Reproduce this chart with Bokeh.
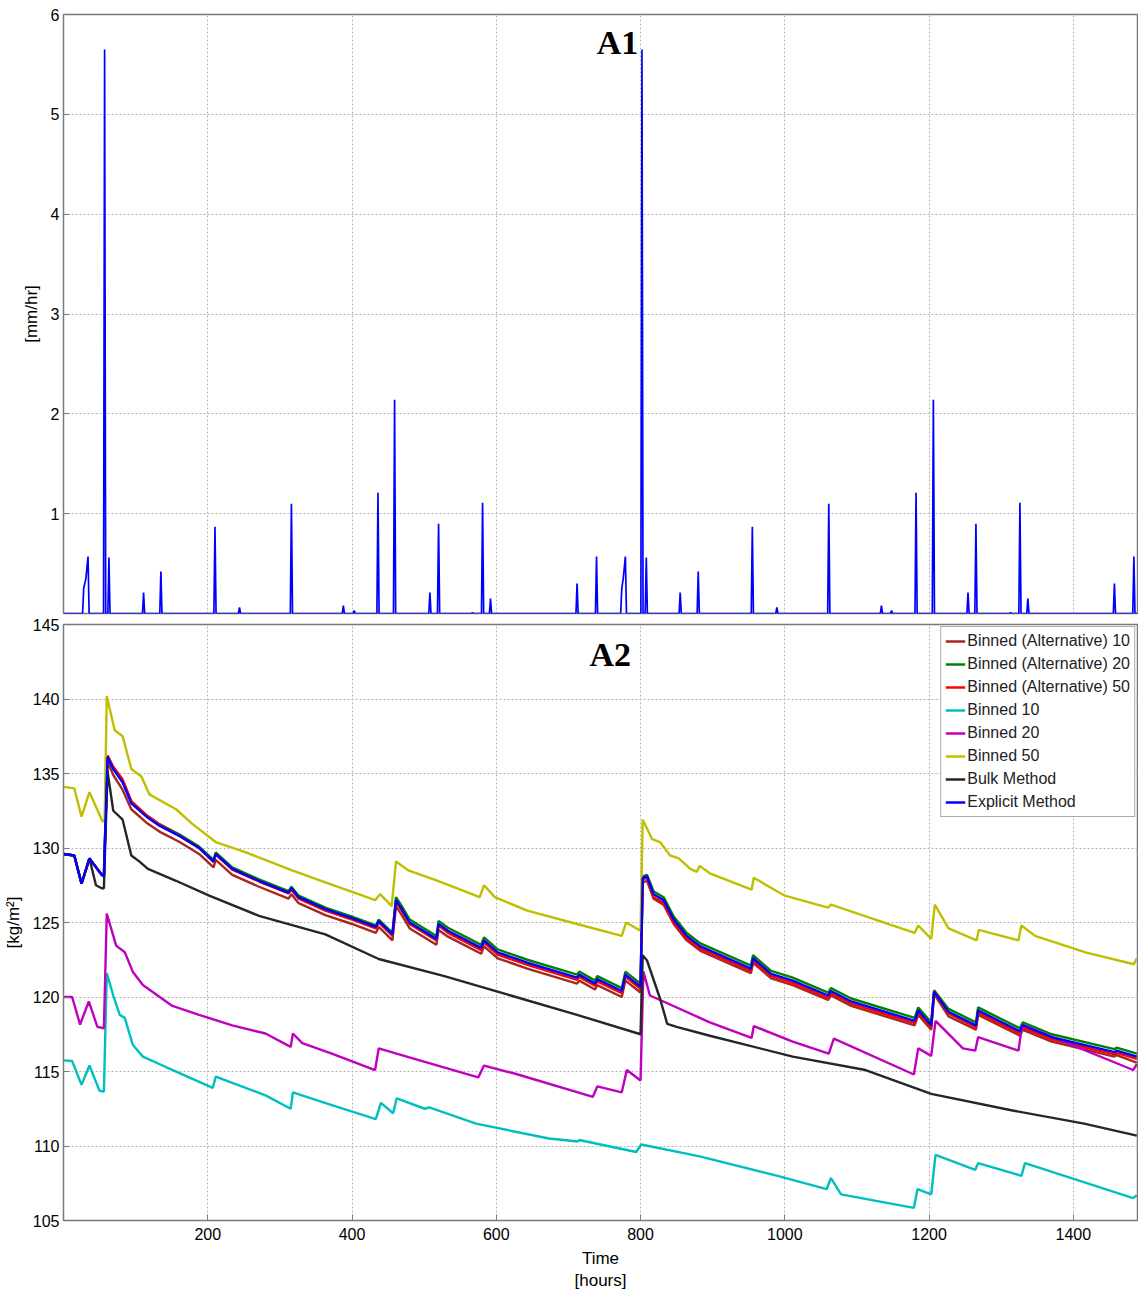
from bokeh.plotting import figure
from bokeh.layouts import column
from bokeh.models import Range1d, FixedTicker, Label
from bokeh.embed import file_html
from bokeh.resources import INLINE

# ---------------- data ----------------
# A1: rainfall events (hour, peak rate mm/hr)
rain_hour = [28, 31, 34, 57, 63, 111, 135, 210, 244, 316, 388, 403, 436, 459, 508, 520, 567,
             581, 592, 712, 739, 774, 776, 779, 802, 808, 855, 880, 955, 989, 1061, 1134,
             1148, 1182, 1206, 1254, 1265, 1313, 1326, 1337, 1457, 1484]
rain_peak = [0.25, 0.35, 0.57, 5.65, 0.56, 0.21, 0.42, 0.87, 0.06, 1.10, 0.08, 0.03, 1.21,
             2.14, 0.21, 0.90, 0.01, 1.11, 0.15, 0.30, 0.57, 0.25, 0.35, 0.57, 5.65, 0.56,
             0.21, 0.42, 0.87, 0.06, 1.10, 0.08, 0.03, 1.21, 2.14, 0.21, 0.90, 0.01, 1.11,
             0.15, 0.30, 0.57]

# A2: four closely following series share these hours
t_grp = [0, 15, 25, 36, 53, 56, 61, 69, 82, 94, 115, 133, 161, 188, 208, 211, 234, 271, 312,
         316, 326, 363, 400, 433, 437, 456, 461, 469, 480, 517, 520, 533, 579, 583, 602, 643,
         712, 715, 737, 740, 774, 779, 800, 803, 809, 818, 832, 846, 864, 883, 953, 956, 981,
         1011, 1060, 1064, 1092, 1180, 1185, 1203, 1207, 1227, 1265, 1268, 1326, 1330, 1370,
         1457, 1460, 1488]
explicit = [129.6, 129.5, 127.6, 129.3, 128.2, 128.1,
            136.1, 135.3, 134.4, 133.0, 132.1, 131.5, 130.8, 130.0, 129.1, 129.6,
            128.6, 127.8, 127.0, 127.3, 126.7, 125.9, 125.3, 124.7, 125.1, 124.2,
            126.5, 125.9, 125.0, 123.9, 124.9, 124.45, 123.3, 123.8, 123.0, 122.3,
            121.3, 121.5, 120.9, 121.2, 120.4, 121.5, 120.7, 128.0, 128.1, 126.9,
            126.5, 125.2, 124.1, 123.4, 121.9, 122.6, 121.55, 121.1, 120.1, 120.4,
            119.7, 118.4, 119.1, 118.1, 120.35, 119.0, 118.1, 119.1, 117.7, 118.1,
            117.3, 116.3, 116.4, 116.0]
alt20 = [129.6, 129.5, 127.6, 129.3, 128.2, 128.1,
         136.2, 135.4, 134.5, 133.1, 132.2, 131.6, 130.9, 130.1, 129.2, 129.7,
         128.7, 127.9, 127.1, 127.4, 126.8, 126.0, 125.4, 124.8, 125.2, 124.3,
         126.7, 126.1, 125.2, 124.1, 125.1, 124.65, 123.5, 124.0, 123.2, 122.5,
         121.5, 121.7, 121.1, 121.4, 120.6, 121.7, 120.9, 128.1, 128.2, 127.1,
         126.7, 125.4, 124.3, 123.6, 122.1, 122.8, 121.75, 121.3, 120.3, 120.6,
         119.9, 118.6, 119.3, 118.3, 120.45, 119.2, 118.3, 119.3, 117.9, 118.3,
         117.5, 116.5, 116.6, 116.2]
alt50 = [129.6, 129.5, 127.6, 129.3, 128.2, 128.1,
         136.2, 135.45, 134.6, 133.15, 132.2, 131.6, 130.8, 130.0, 129.05, 129.55,
         128.55, 127.75, 126.95, 127.2, 126.6, 125.8, 125.2, 124.6, 125.0, 124.1,
         126.4, 125.8, 124.9, 123.8, 124.8, 124.3, 123.15, 123.65, 122.85, 122.15,
         121.15, 121.35, 120.75, 121.05, 120.25, 121.35, 120.55, 127.9, 128.0, 126.7,
         126.3, 125.0, 123.95, 123.25, 121.75, 122.45, 121.4, 120.95, 119.95, 120.25,
         119.55, 118.25, 118.95, 117.95, 120.4, 118.9, 117.95, 118.95, 117.55, 117.95,
         117.15, 116.15, 116.25, 115.85]
alt10 = [129.6, 129.5, 127.6, 129.3, 128.2, 128.1,
         135.8, 134.9, 133.9, 132.6, 131.7, 131.1, 130.4, 129.6, 128.7, 129.2,
         128.2, 127.4, 126.6, 126.9, 126.3, 125.5, 124.9, 124.3, 124.7, 123.8,
         126.1, 125.5, 124.6, 123.5, 124.5, 124.05, 122.9, 123.4, 122.6, 121.9,
         120.9, 121.1, 120.5, 120.8, 120.0, 121.1, 120.3, 127.7, 127.8, 126.6,
         126.2, 124.9, 123.8, 123.1, 121.6, 122.3, 121.25, 120.8, 119.8, 120.1,
         119.4, 118.1, 118.8, 117.8, 120.2, 118.7, 117.8, 118.8, 117.4, 117.8,
         117.0, 116.0, 116.1, 115.6]

t_b50 = [0, 15, 25, 36, 54, 57, 60, 71, 82, 94, 108, 119, 156, 179, 211, 253, 317, 363, 409,
         432, 439, 455, 461, 478, 519, 577, 583, 598, 643, 712, 774, 780, 800, 803, 816, 827,
         841, 853, 869, 878, 882, 896, 954, 957, 1000, 1060, 1064, 1180, 1185, 1203, 1208,
         1227, 1266, 1269, 1324, 1328, 1347, 1417, 1484, 1488]
binned50 = [134.1, 134.0, 132.1, 133.75, 131.8, 131.8, 140.2, 137.9, 137.5, 135.3, 134.8,
            133.6, 132.6, 131.6, 130.4, 129.7, 128.5, 127.7, 126.9, 126.5, 126.9, 126.1,
            129.1, 128.5, 127.8, 126.7, 127.5, 126.7, 125.8, 124.9, 124.1, 125.0, 124.45,
            131.9, 130.6, 130.4, 129.5, 129.3, 128.6, 128.4, 128.8, 128.3, 127.2, 128.0,
            126.8, 126.0, 126.2, 124.3, 124.8, 123.9, 126.2, 124.6, 123.8, 124.5, 123.8,
            124.8, 124.1, 123.0, 122.2, 122.6]

t_bulk = [0, 15, 25, 36, 45, 53, 56, 61, 69, 82, 94, 105, 117, 156, 202, 271, 363, 437, 528,
          620, 712, 800, 803, 809, 827, 837, 850, 896, 1011, 1112, 1203, 1314, 1415, 1488]
bulk = [129.6, 129.5, 127.6, 129.3, 127.5, 127.3, 127.3, 135.15, 132.5, 131.9, 129.5, 129.1,
        128.6, 127.8, 126.8, 125.45, 124.2, 122.55, 121.4, 120.1, 118.8, 117.5, 122.8,
        122.45, 119.9, 118.2, 118.0, 117.4, 116.0, 115.1, 113.5, 112.4, 111.5, 110.7]

t_b20 = [0, 12, 23, 35, 47, 56, 60, 73, 85, 96, 110, 151, 188, 234, 280, 315, 318, 331, 372,
         432, 437, 483, 575, 583, 630, 734, 740, 774, 781, 800, 804, 813, 827, 896, 954, 957,
         1011, 1061, 1068, 1179, 1185, 1203, 1209, 1247, 1264, 1268, 1324, 1329, 1483, 1488]
binned20 = [120.0, 120.0, 118.15, 119.7, 118.0, 117.9, 125.6, 123.45, 123.0, 121.7, 120.8,
            119.4, 118.8, 118.1, 117.55, 116.65, 117.55, 116.9, 116.2, 115.1, 116.55, 115.9,
            114.6, 115.4, 114.8, 113.3, 114.0, 113.6, 115.1, 114.4, 121.7, 120.1, 119.8,
            118.3, 117.25, 118.05, 117.0, 116.2, 117.2, 114.8, 116.55, 116.05, 118.4, 116.55,
            116.4, 117.3, 116.4, 118.15, 115.1, 115.5]

t_b10 = [0, 12, 25, 36, 50, 56, 60, 69, 78, 85, 96, 110, 142, 207, 211, 280, 315, 318, 372,
         433, 440, 457, 462, 501, 507, 572, 673, 713, 715, 794, 801, 882, 990, 1058, 1064,
         1078, 1179, 1184, 1203, 1209, 1264, 1268, 1328, 1333, 1483, 1488]
binned10 = [115.75, 115.7, 114.1, 115.4, 113.7, 113.65, 121.6, 120.1, 118.8, 118.6, 116.8,
            116.0, 115.3, 113.9, 114.65, 113.4, 112.5, 113.6, 112.75, 111.8, 112.9, 112.2,
            113.2, 112.5, 112.6, 111.5, 110.5, 110.3, 110.4, 109.6, 110.1, 109.3, 108.0,
            107.1, 107.85, 106.75, 105.85, 107.1, 106.75, 109.4, 108.4, 108.85, 108.0,
            108.85, 106.5, 106.7]

x_ticks = [200, 400, 600, 800, 1000, 1200, 1400]
a1_ticks = [1, 2, 3, 4, 5, 6]
a2_ticks = [105, 110, 115, 120, 125, 130, 135, 140, 145]

# ---------------- build rainfall polyline ----------------
rx, ry = [0], [0]
prev = None
for h, v in zip(rain_hour, rain_peak):
    if prev is None or h - prev > 4:
        if prev is not None:
            rx.append(prev + 1.5); ry.append(0)
        rx.append(h - 1.5); ry.append(0)
    rx.append(h); ry.append(v)
    prev = h
rx.append(min(prev + 1.5, 1489)); ry.append(0)
rx.append(1489); ry.append(0)

FONT = "Liberation Sans"
GRID = "#b4b4b4"
AX = "#7a7a7a"


def style(p, yticks):
    p.outline_line_color = AX
    p.outline_line_width = 1.5
    for ax in p.axis:
        ax.axis_line_color = AX
        ax.major_tick_line_color = AX
        ax.major_tick_in = 6
        ax.major_tick_out = 0
        ax.minor_tick_line_color = None
        ax.major_label_text_font = FONT
        ax.major_label_text_font_size = "16px"
        ax.major_label_text_color = "black"
        ax.axis_label_text_font = FONT
        ax.axis_label_text_font_size = "17px"
        ax.axis_label_text_font_style = "normal"
        ax.axis_label_text_color = "black"
    p.yaxis.ticker = FixedTicker(ticks=yticks)
    p.xaxis.ticker = FixedTicker(ticks=x_ticks)
    p.yaxis.major_label_standoff = 4
    p.yaxis.axis_label_standoff = 7
    for g in (p.xgrid, p.ygrid):
        g.grid_line_color = GRID
        g.grid_line_dash = "2 2"
        g.grid_line_width = 1


p1 = figure(frame_width=1074, frame_height=599, x_range=Range1d(0, 1489), y_range=Range1d(0, 6),
            output_backend="svg", toolbar_location=None,
            min_border_left=63, min_border_right=1, min_border_top=14, min_border_bottom=2)
p1.line(rx, ry, line_color="#0000ff", line_width=1.7)
style(p1, a1_ticks)
p1.xaxis.visible = False
p1.yaxis.axis_label = "[mm/hr]"
p1.add_layout(Label(x=768, y=5.72, text="A1", text_font="Liberation Serif", text_font_style="bold",
                    text_font_size="34px", text_color="black",
                    text_align="center", text_baseline="middle"))

p2 = figure(frame_width=1074, frame_height=596, x_range=Range1d(0, 1489), y_range=Range1d(105, 145),
            output_backend="svg", toolbar_location=None,
            min_border_left=63, min_border_right=1, min_border_top=9, min_border_bottom=6)
LW = 2.4
p2.line(t_grp, alt10, line_color="#a52a1e", line_width=LW, legend_label="Binned (Alternative) 10")
p2.line(t_grp, alt20, line_color="#008000", line_width=LW, legend_label="Binned (Alternative) 20")
p2.line(t_grp, alt50, line_color="#ff0000", line_width=LW, legend_label="Binned (Alternative) 50")
p2.line(t_b10, binned10, line_color="#00bfbf", line_width=LW, legend_label="Binned 10")
p2.line(t_b20, binned20, line_color="#bf00bf", line_width=LW, legend_label="Binned 20")
p2.line(t_b50, binned50, line_color="#bfbf00", line_width=LW, legend_label="Binned 50")
p2.line(t_bulk, bulk, line_color="#262626", line_width=LW, legend_label="Bulk Method")
p2.line(t_grp, explicit, line_color="#0000ff", line_width=LW, legend_label="Explicit Method")
style(p2, a2_ticks)
p2.yaxis.axis_label = "[kg/m²]"
p2.xaxis.axis_label = "Time\n[hours]"
p2.xaxis.major_label_standoff = 7
p2.xaxis.axis_label_standoff = 6
p2.add_layout(Label(x=758, y=143.0, text="A2", text_font="Liberation Serif", text_font_style="bold",
                    text_font_size="34px", text_color="black",
                    text_align="center", text_baseline="middle"))

lg = p2.legend[0]
lg.location = "top_right"
lg.margin = 2
lg.padding = 4
lg.spacing = 3
lg.label_height = 20
lg.glyph_height = 20
lg.glyph_width = 20
lg.label_standoff = 2
lg.label_text_font = FONT
lg.label_text_font_size = "16px"
lg.label_text_color = "#222222"
lg.border_line_color = "#555555"
lg.border_line_width = 1
lg.background_fill_alpha = 1.0

layout = column(p1, p2, spacing=0)
open("out.html", "w").write(file_html(layout, INLINE))
